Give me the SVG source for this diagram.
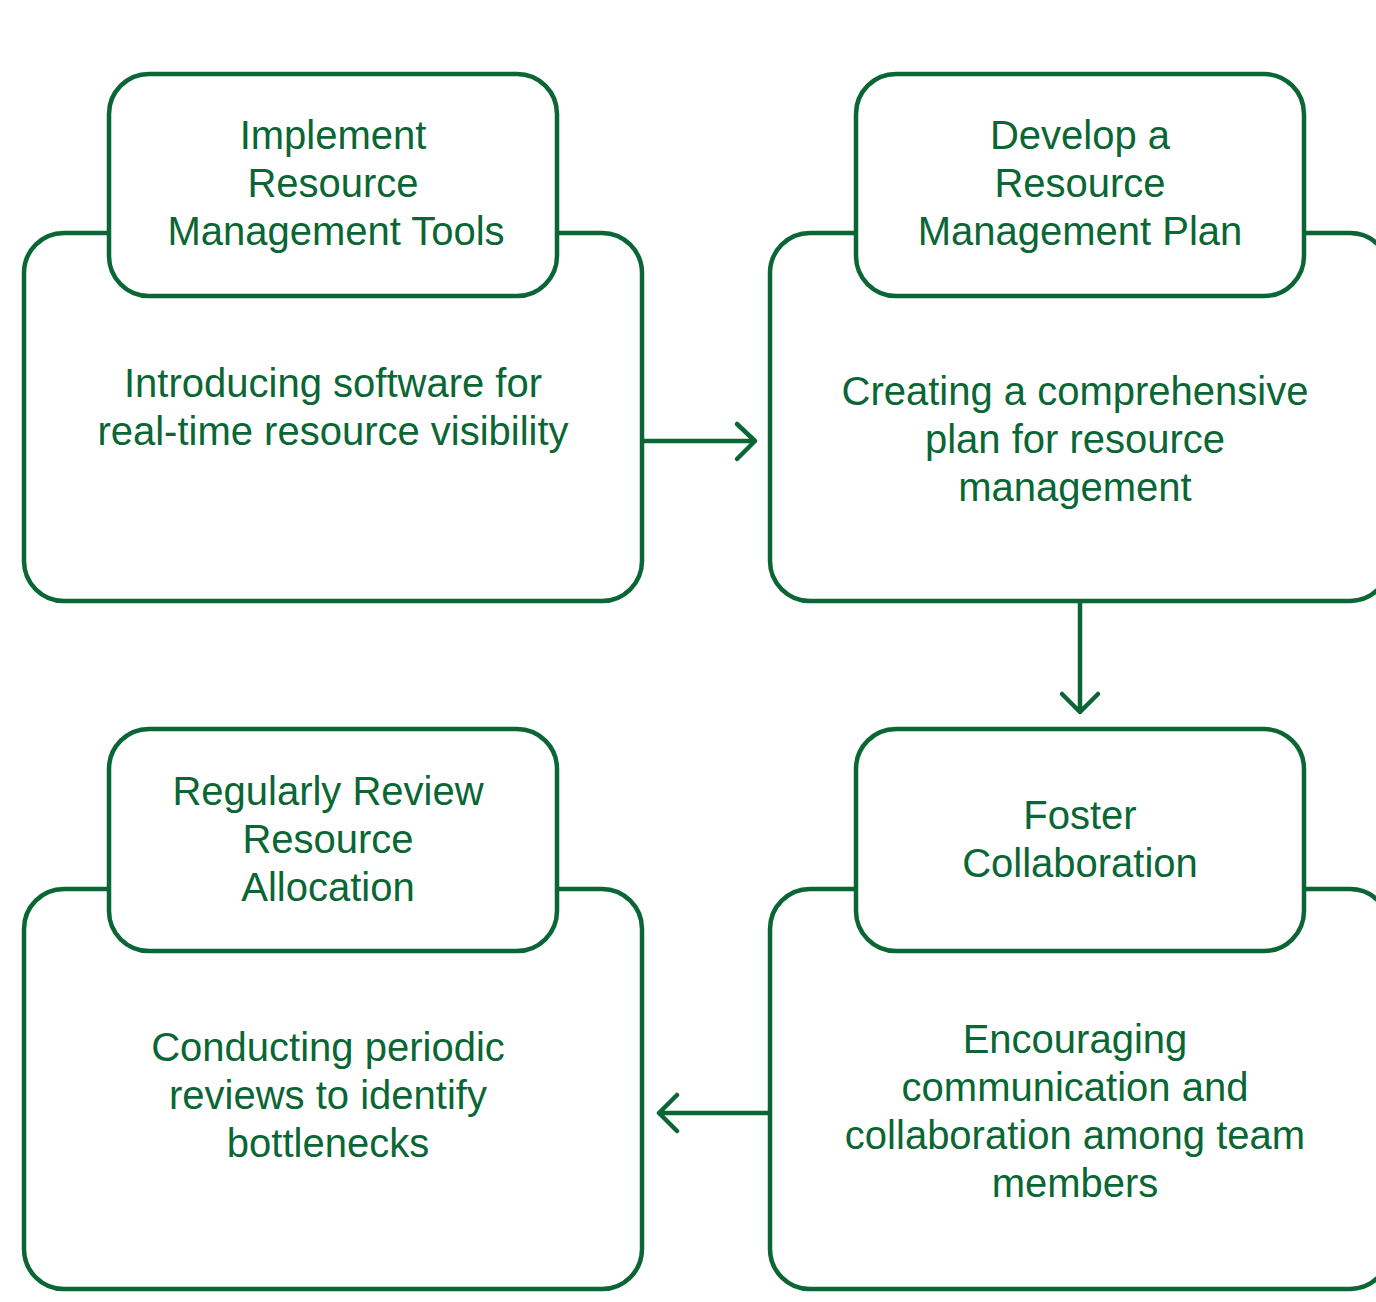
<svg xmlns="http://www.w3.org/2000/svg" width="1376" height="1302" viewBox="0 0 1376 1302">
<style>
.box{fill:#ffffff;stroke:#0a6634;stroke-width:4.5}
.t{font-family:"Liberation Sans",Arial,sans-serif;font-size:40px;fill:#0a6634;text-anchor:middle}
.c{fill:none;stroke:#0a6634;stroke-width:4.5;stroke-linecap:round;stroke-linejoin:round}
</style>
<rect width="1376" height="1302" fill="#ffffff"/>
<g id="node1">
<rect class="box" x="24" y="233" width="618" height="368" rx="40"/>
<rect class="box" x="109" y="74" width="448" height="222" rx="40"/>
<text class="t" x="333" y="149">Implement</text>
<text class="t" x="333" y="197">Resource</text>
<text class="t" x="336" y="245">Management Tools</text>
<text class="t" x="333" y="397">Introducing software for</text>
<text class="t" x="333" y="445">real-time resource visibility</text>
</g>
<g id="node2">
<rect class="box" x="770" y="233" width="620" height="368" rx="40"/>
<rect class="box" x="856" y="74" width="448" height="222" rx="40"/>
<text class="t" x="1080" y="149">Develop a</text>
<text class="t" x="1080" y="197">Resource</text>
<text class="t" x="1080" y="245">Management Plan</text>
<text class="t" x="1075" y="405">Creating a comprehensive</text>
<text class="t" x="1075" y="453">plan for resource</text>
<text class="t" x="1075" y="501">management</text>
</g>
<g id="node3">
<rect class="box" x="770" y="889" width="620" height="400" rx="40"/>
<rect class="box" x="856" y="729" width="448" height="222" rx="40"/>
<text class="t" x="1080" y="829">Foster</text>
<text class="t" x="1080" y="877">Collaboration</text>
<text class="t" x="1075" y="1053">Encouraging</text>
<text class="t" x="1075" y="1101">communication and</text>
<text class="t" x="1075" y="1149">collaboration among team</text>
<text class="t" x="1075" y="1197">members</text>
</g>
<g id="node4">
<rect class="box" x="24" y="889" width="618" height="400" rx="40"/>
<rect class="box" x="109" y="729" width="448" height="222" rx="40"/>
<text class="t" x="328" y="805">Regularly Review</text>
<text class="t" x="328" y="853">Resource</text>
<text class="t" x="328" y="901">Allocation</text>
<text class="t" x="328" y="1061">Conducting periodic</text>
<text class="t" x="328" y="1109">reviews to identify</text>
<text class="t" x="328" y="1157">bottlenecks</text>
</g>
<g id="connectors">
<path class="c" d="M644 441 H755 M737 424 L755 441 L737 459"/>
<path class="c" d="M1080 603 V712 M1062 694 L1080 712 L1098 694"/>
<path class="c" d="M768 1113 H659 M677 1095 L659 1113 L677 1131"/>
</g>
</svg>
